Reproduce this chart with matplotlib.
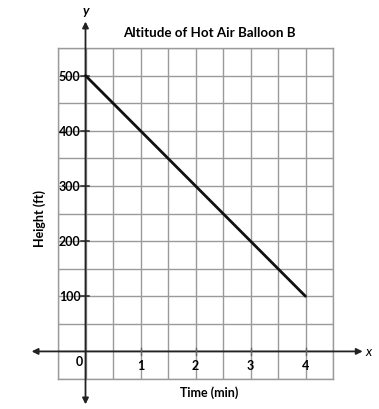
import matplotlib
matplotlib.use("Agg")
import matplotlib.pyplot as plt

# data
time_min = [0, 4]
height_ft = [500, 100]
x_ticks = [1, 2, 3, 4]
y_ticks = [100, 200, 300, 400, 500]

plt.rcParams['font.family'] = ['Lato', 'DejaVu Sans']

fig = plt.figure(figsize=(3.79, 4.10), dpi=100)
ax = fig.add_axes([58 / 379, 30 / 410, 275 / 379, 331 / 410])
ax.set_xlim(-0.5, 4.5)
ax.set_ylim(-50, 550)

# grid every half unit
grid_c = '#9a9a9a'
for gx in [i * 0.5 - 0.5 for i in range(11)]:
    ax.axvline(gx, color=grid_c, lw=1.0, zorder=1)
for gy in range(-50, 551, 50):
    ax.axhline(gy, color=grid_c, lw=1.0, zorder=1)
for s in ax.spines.values():
    s.set_color(grid_c)
    s.set_linewidth(1.0)
ax.set_xticks([])
ax.set_yticks([])

# axes with arrows
ap = dict(arrowstyle='<|-|>', color='#222222', lw=1.3, mutation_scale=9, shrinkA=0, shrinkB=0)
ax.annotate('', xy=(-0.98, 0), xytext=(5.04, 0), arrowprops=ap, annotation_clip=False, zorder=3)
ax.annotate('', xy=(0, -96), xytext=(0, 598), arrowprops=ap, annotation_clip=False, zorder=3)
ax.text(5.15, 0, 'x', fontsize=9.5, fontstyle='italic', ha='center', va='center')
ax.text(0, 618, 'y', fontsize=9.5, fontstyle='italic', fontweight='bold', ha='center', va='center')

# tick marks and labels
for t in y_ticks:
    ax.plot([-0.09, 0.06], [t, t], color='#222222', lw=1.1, clip_on=False, zorder=3)
    ax.text(-0.09, t, str(t), fontsize=9, fontweight='bold', ha='right', va='center', zorder=4)
for t in x_ticks:
    ax.plot([t, t], [-6, 6], color='#666666', lw=1.0, clip_on=False, zorder=3)
    ax.text(t, -24, str(t), fontsize=9, fontweight='bold', ha='center', va='center', zorder=4)
ax.text(-0.11, -17, '0', fontsize=9, fontweight='bold', ha='center', va='center', zorder=4)

# data line
ax.plot(time_min, height_ft, color='#111111', lw=2.0, zorder=4, solid_capstyle='round')

fig.text(209 / 379, 1 - 33 / 410, 'Altitude of Hot Air Balloon B', fontsize=9.6,
         fontweight='bold', ha='center', va='center')
fig.text(209 / 379, 1 - 393 / 410, 'Time (min)', fontsize=9, fontweight='bold', ha='center', va='center')
fig.text(40 / 379, 1 - 219 / 410, 'Height (ft)', fontsize=9, fontweight='bold', ha='center',
         va='center', rotation=90)

fig.savefig('out.png', dpi=100)
